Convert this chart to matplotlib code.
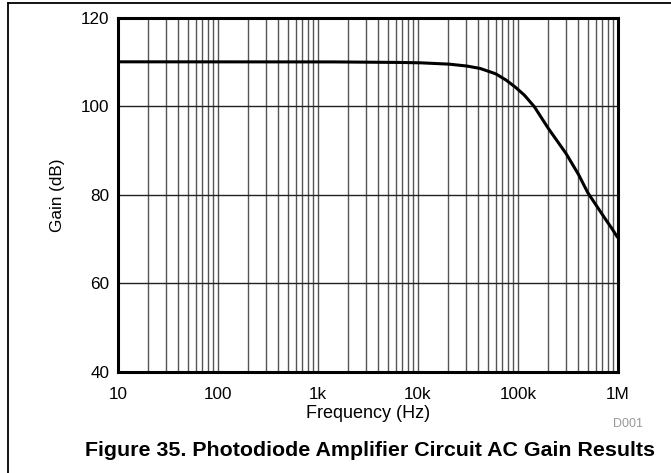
import numpy as np
import matplotlib
matplotlib.use('Agg')
import matplotlib.pyplot as plt
from matplotlib.lines import Line2D
from matplotlib.ticker import FixedLocator, NullFormatter

plt.rcParams['font.family'] = ['Liberation Sans', 'DejaVu Sans']

# Kurve
freq_hz = [10, 1e3, 5e3, 1e4, 2e4, 3e4, 4.2e4, 6e4, 7.5e4, 9.2e4, 1.15e5, 1.45e5,
           1.7e5, 2e5, 2.5e5, 3e5, 4e5, 5e5, 6e5, 7e5, 8.5e5, 1e6]
gain_db = [110, 110, 109.9, 109.8, 109.5, 109.1, 108.5, 107.3, 106.0, 104.5, 102.6, 100.0,
           97.6, 95.1, 92.0, 89.5, 84.8, 80.5, 77.8, 75.5, 72.8, 70.3]

x_ticks = [10, 100, 1e3, 1e4, 1e5, 1e6]
x_tick_labels = ['10', '100', '1k', '10k', '100k', '1M']
y_ticks = [40, 60, 80, 100, 120]


def smooth_curve(xs, ys, n=600):
    lx = np.log10(xs)
    grid = np.linspace(lx[0], lx[-1], n)
    return 10 ** grid, np.interp(grid, lx, ys)


fig = plt.figure(figsize=(6.71, 4.73), dpi=100)
ax = fig.add_axes([0.1759, 0.2135, 0.7448, 0.7495])

ax.set_xscale('log')
ax.set_xlim(10, 1e6)
ax.set_ylim(40, 120)

minor = [m * 10 ** e for e in range(1, 6) for m in range(2, 10)]
ax.xaxis.set_major_locator(FixedLocator(x_ticks))
ax.xaxis.set_minor_locator(FixedLocator(minor))
ax.xaxis.set_minor_formatter(NullFormatter())
ax.set_xticks(x_ticks)
ax.set_xticklabels(x_tick_labels)
ax.set_yticks(y_ticks)

ax.grid(True, which='both', axis='x', color='#555555', linewidth=1.0)
ax.grid(True, which='major', axis='y', color='#222222', linewidth=1.0)
ax.tick_params(which='both', length=0, labelsize=12.3, colors='black')
ax.tick_params(axis='x', pad=11)
ax.tick_params(axis='y', pad=6)

for s in ax.spines.values():
    s.set_linewidth(2.2)
    s.set_color('black')

xs, ys = smooth_curve(freq_hz, gain_db)
ax.plot(xs, ys, color='black', linewidth=2.2, solid_capstyle='butt', zorder=3)

ax.set_xlabel('Frequency (Hz)', fontsize=13, labelpad=2)
ax.set_ylabel('Gain (dB)', fontsize=12.3, labelpad=12)

fig.text(0.936, 0.104, 'D001', fontsize=9, color='#999999', ha='center', va='center')
fig.text(0.552, 0.047, 'Figure 35. Photodiode Amplifier Circuit AC Gain Results',
         fontsize=15.4, fontweight='bold', ha='center', va='center')

# nur linker und oberer Rahmen sichtbar
fig.lines.append(Line2D([0.0119, 0.0119], [0, 0.9947], transform=fig.transFigure,
                        color='black', linewidth=1.3))
fig.lines.append(Line2D([0.0119, 1], [0.9947, 0.9947], transform=fig.transFigure,
                        color='black', linewidth=1.3))

fig.savefig('out.png', dpi=100)
